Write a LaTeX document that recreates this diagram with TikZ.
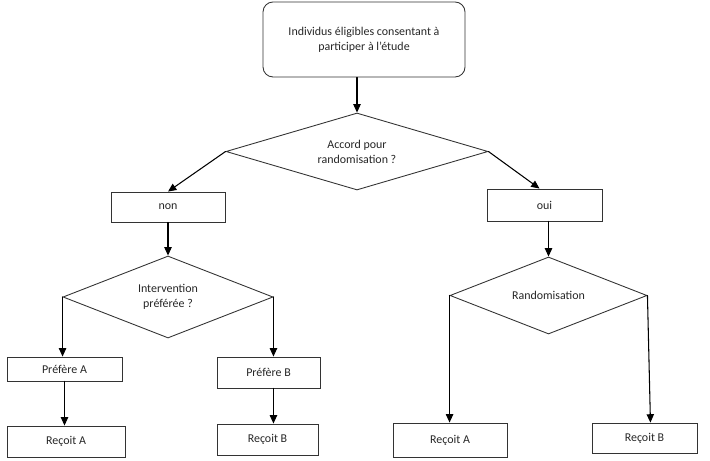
\documentclass[tikz,border=0pt]{standalone}
\usepackage{fontspec}
\setmainfont{Carlito}
\usetikzlibrary{arrows.meta,shapes.geometric}

\begin{document}
\begin{tikzpicture}[x=0.03cm,y=-0.03cm,>={Triangle[length=2.5mm,width=2.2mm]},
  font=\fontsize{10.2}{12.8}\selectfont,line cap=round,
  boite/.style={draw=black!80,line width=0.75pt,text=black!85,inner sep=0pt},
  losange/.style={boite,diamond,aspect=2.6},
  fleche/.style={->,line width=0.9pt}]
\useasboundingbox (0,0) rectangle (710,461);
\node[boite,rounded corners=3mm,minimum width=6.06cm,minimum height=2.25cm,align=center] (start) at (364,39.5) {Individus éligibles consentant à\\participer à l'étude};
\node[losange,minimum width=7.86cm,minimum height=2.31cm,align=center] (accord) at (357,151.5) {Accord pour\\randomisation ?};
\node[boite,minimum width=3.42cm,minimum height=0.9cm] (non) at (168,207) {non};
\node[boite,minimum width=3.45cm,minimum height=0.96cm] (oui) at (544.5,205) {oui};
\node[losange,minimum width=6.3cm,minimum height=2.46cm,align=center] (interv) at (168,297) {Intervention\\préférée ?};
\node[losange,minimum width=5.91cm,minimum height=2.31cm] (rando) at (548.5,295.5) {Randomisation};
\node[boite,minimum width=3.45cm,minimum height=0.72cm] (prefA) at (64.5,369) {Préfère A};
\node[boite,minimum width=3.09cm,minimum height=0.93cm] (prefB) at (268.5,372.5) {Préfère B};
\node[boite,minimum width=3.54cm,minimum height=0.93cm] (recA) at (66,441.5) {Reçoit A};
\node[boite,minimum width=3.03cm,minimum height=0.93cm] (recB) at (267.5,439.5) {Reçoit B};
\node[boite,minimum width=3.42cm,minimum height=1.02cm] (recA2) at (450,440) {Reçoit A};
\node[boite,minimum width=3.15cm,minimum height=0.9cm] (recB2) at (644.5,438) {Reçoit B};
\draw[fleche] (start.south -| accord.north) -- (accord.north);
\draw[fleche] (accord.west) -- (non.north);
\draw[fleche] (accord.east) -- ([xshift=-0.15cm]oui.north);
\draw[fleche] (non.south) -- (interv.north);
\draw[fleche] (oui.south -| rando.north) -- (rando.north);
\draw[fleche] (interv.west) -- (interv.west |- prefA.north);
\draw[fleche] (interv.east) -- (interv.east |- prefB.north);
\draw[fleche] (prefA.south) -- (prefA.south |- recA.north);
\draw[fleche] (prefB.south -| interv.east) -- (interv.east |- recB.north);
\draw[fleche] (rando.west) -- (rando.west |- recA2.north);
\draw[fleche] (rando.east) -- ([xshift=0.09cm]rando.east |- recB2.north);
\end{tikzpicture}
\end{document}
